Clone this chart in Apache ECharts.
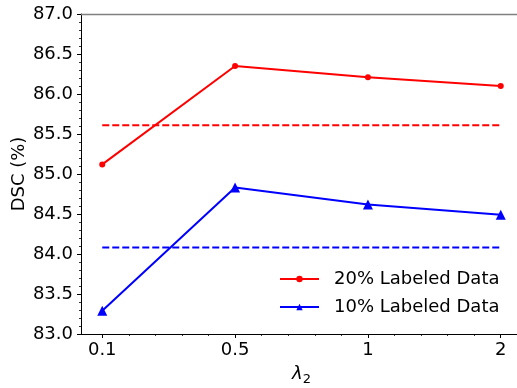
<!DOCTYPE html>
<html><head><meta charset="utf-8">
<script src="https://cdn.jsdelivr.net/npm/echarts@6/dist/echarts.min.js"></script>
<style>html,body{margin:0;padding:0;background:#fff}#c{width:517px;height:388px}</style>
</head><body><div id="c"></div>
<script>
const categories = ['0.1', '0.5', '1', '2'];
const labeled20 = [85.12, 86.35, 86.21, 86.10];
const labeled10 = [83.29, 84.83, 84.62, 84.49];
const baseline20 = 85.61;
const baseline10 = 84.08;
const yTicks = [83.0, 83.5, 84.0, 84.5, 85.0, 85.5, 86.0, 86.5, 87.0];

const FONT = 'DejaVu Sans';
const toPts = arr => arr.map((v, i) => [i, v]);
const flat = v => [[0, v], [categories.length - 1, v]];
const catPos = categories.map((c, i) => i);
const minorPos = [];
for (let i = 0; i < categories.length - 1; i++) for (let k = 1; k < 5; k++) minorPos.push(i + k / 5);
const XMIN = -0.16, XMAX = categories.length - 1 + 0.16;

const chart = echarts.init(document.getElementById('c'), null, {renderer: 'canvas'});
chart.setOption({
  animation: false,
  backgroundColor: '#fff',
  grid: {left: 81, top: 14, width: 441, height: 320, containLabel: false, outerBoundsMode: 'none'},
  xAxis: [
    {type: 'value', min: XMIN, max: XMAX, position: 'bottom',
     axisLine: {show: true, onZero: false, lineStyle: {color: '#000', width: 1}},
     axisTick: {show: true, customValues: catPos, length: 4, lineStyle: {color: '#000', width: 1}},
     splitLine: {show: false},
     axisLabel: {fontFamily: FONT, fontSize: 18, color: '#000', margin: 7, customValues: catPos,
       formatter: v => categories[Math.round(v)] ?? ''},
     name: '{i|λ}{s|2}', nameLocation: 'middle', nameGap: 29, nameMoveOverlap: false,
     nameTextStyle: {rich: {
       i: {fontFamily: FONT, fontStyle: 'italic', fontSize: 18, color: '#000'},
       s: {fontFamily: FONT, fontSize: 13, color: '#000', padding: [10, 0, 0, 0]}
     }}},
    {type: 'value', min: XMIN, max: XMAX, position: 'bottom',
     axisLine: {show: false, onZero: false},
     axisTick: {show: true, customValues: minorPos, length: 2, lineStyle: {color: '#000', width: 0.8}},
     axisLabel: {show: false}, splitLine: {show: false}},
    {type: 'value', min: XMIN, max: XMAX, position: 'top',
     axisLine: {show: true, onZero: false, lineStyle: {color: '#808080', width: 1.3}},
     axisTick: {show: false}, axisLabel: {show: false}, splitLine: {show: false}}
  ],
  yAxis: {type: 'value', min: yTicks[0], max: yTicks[yTicks.length - 1], interval: 0.5,
     axisLine: {show: true, onZero: false, lineStyle: {color: '#000', width: 1}},
     axisTick: {show: true, length: 4, lineStyle: {color: '#000', width: 1}},
     minorTick: {show: true, splitNumber: 5, length: 2, lineStyle: {color: '#000', width: 0.8}},
     splitLine: {show: false},
     axisLabel: {fontFamily: FONT, fontSize: 18, color: '#000', margin: 8, formatter: v => v.toFixed(1)},
     name: 'DSC (%)', nameLocation: 'middle', nameGap: 53, nameMoveOverlap: false,
     nameTextStyle: {fontFamily: FONT, fontSize: 18, color: '#000'}},
  legend: {
    orient: 'vertical', left: 279, top: 270, padding: 0, itemWidth: 39, itemHeight: 8, itemGap: 10,
    textStyle: {fontFamily: FONT, fontSize: 18, color: '#000', padding: [0, 0, 0, 10], lineHeight: 18},
    data: ['20% Labeled Data', '10% Labeled Data']
  },
  series: [
    {name: '20% Labeled Data', type: 'line', data: toPts(labeled20),
     symbol: 'circle', symbolSize: 6, color: '#ff0000', lineStyle: {width: 2}},
    {name: '10% Labeled Data', type: 'line', data: toPts(labeled10),
     symbol: 'triangle', symbolSize: 10, color: '#0000ff', lineStyle: {width: 2}},
    {name: 'base20', type: 'line', data: flat(baseline20),
     symbol: 'none', color: '#ff0000', lineStyle: {width: 2, type: [7, 3]}},
    {name: 'base10', type: 'line', data: flat(baseline10),
     symbol: 'none', color: '#0000ff', lineStyle: {width: 2, type: [7, 3]}}
  ]
});
</script></body></html>
